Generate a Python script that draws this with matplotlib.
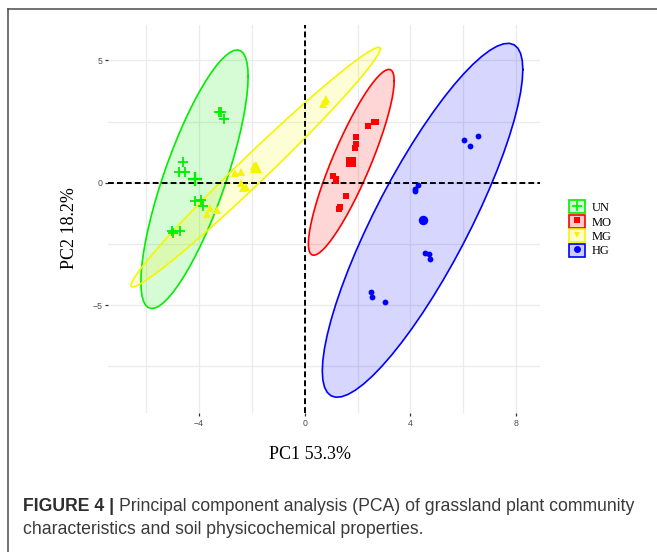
"""
PCA score plot of grassland plots (UN / MO / MG / HG) with 95% normal ellipses.
"""

import numpy as np
import matplotlib
matplotlib.use('Agg')
import matplotlib.pyplot as plt
from matplotlib.lines import Line2D
from matplotlib.patches import Patch
from matplotlib.legend_handler import HandlerTuple

# ---------------------------------------------------------------------------
# Data (PC1 / PC2 scores)
# ---------------------------------------------------------------------------
groups = ['UN', 'MO', 'MG', 'HG']
colors = ['#00EE00', '#FF0000', '#F5F500', '#0000FF']
markers = ['+', 's', '^', 'o']
legend_markers = ['+', 's', 'v', 'o']

un_pc1 = [-3.23, -3.16, -3.07, -4.61, -4.76, -4.55, -4.17, -3.93, -3.85, -5.03, -4.99, -4.74]
un_pc2 = [2.90, 2.90, 2.60, 0.86, 0.43, 0.45, -0.76, -0.70, -0.94, -1.99, -2.06, -1.97]

mo_pc1 = [2.70, 2.61, 2.38, 1.96, 1.95, 1.91, 1.08, 1.20, 1.18, 1.57, 1.34, 1.28]
mo_pc2 = [2.49, 2.49, 2.30, 1.87, 1.58, 1.41, 0.26, 0.16, 0.08, -0.56, -0.98, -1.09]

mg_pc1 = [0.70, 0.77, 0.82, -2.64, -2.41, -2.43, -2.35, -2.23, -3.60, -3.70, -3.32, -1.93]
mg_pc2 = [3.22, 3.33, 3.42, 0.40, 0.42, 0.01, -0.22, -0.19, -1.04, -1.27, -1.11, 0.67]

hg_pc1 = [6.02, 6.25, 6.55, 4.28, 4.18, 4.19, 4.56, 4.71, 4.74, 2.50, 2.54, 3.03]
hg_pc2 = [1.76, 1.48, 1.89, -0.10, -0.25, -0.34, -2.88, -2.90, -3.10, -4.44, -4.66, -4.85]

scores = [(un_pc1, un_pc2), (mo_pc1, mo_pc2), (mg_pc1, mg_pc2), (hg_pc1, hg_pc2)]

x_label = 'PC1 53.3%'
y_label = 'PC2 18.2%'
caption_bold = 'FIGURE 4 |'
caption_line1 = 'Principal component analysis (PCA) of grassland plant community'
caption_line2 = 'characteristics and soil physicochemical properties.'


def norm_ellipse(x, y, level=0.95, segments=61):
    """Same construction as ggplot2::stat_ellipse(type='norm')."""
    pts = np.column_stack([x, y])
    n = len(pts)
    center = pts.mean(axis=0)
    cov = np.cov(pts, rowvar=False)
    # F quantile with 2 numerator dof has a closed form
    dfd = n - 1
    fq = dfd / 2 * ((1 - level) ** (-2 / dfd) - 1)
    radius = np.sqrt(2 * fq)
    theta = np.linspace(0, 2 * np.pi, segments)
    circle = np.column_stack([np.cos(theta), np.sin(theta)])
    chol = np.linalg.cholesky(cov).T
    return center + radius * circle @ chol


W, H = 657, 552
fig = plt.figure(figsize=(W / 100, H / 100), dpi=100)
fig.patch.set_facecolor('white')

# panel in pixel coordinates
px_left, px_right, px_top, px_bottom = 108, 540, 25, 413
ax = fig.add_axes([px_left / W, 1 - px_bottom / H,
                   (px_right - px_left) / W, (px_bottom - px_top) / H])

# =========================================================================
# Ellipses, then points and centroids
# =========================================================================
for (x, y), c in zip(scores, colors):
    ell = norm_ellipse(x, y)
    ax.fill(ell[:, 0], ell[:, 1], facecolor=c, alpha=0.16, edgecolor='none', zorder=2)
    ax.plot(ell[:, 0], ell[:, 1], color=c, lw=1.2, zorder=3)

point_ms = [6.5, 4.5, 5.5, 4.2]
centroid_ms = [10, 7.0, 8.5, 6.8]
for (x, y), c, m, ms, cms in zip(scores, colors, markers, point_ms, centroid_ms):
    mew = 1.3 if m == '+' else 0
    ax.plot(x, y, linestyle='none', marker=m, ms=ms, color=c, mew=mew, zorder=4)
    ax.plot(np.mean(x), np.mean(y), linestyle='none', marker=m, ms=cms, color=c,
            mew=1.7 if m == '+' else 0, zorder=4)

ax.axhline(0, color='black', lw=1.4, dashes=(3.0, 1.6), zorder=3.5)
ax.axvline(0, color='black', lw=1.4, dashes=(3.0, 1.6), zorder=3.5)

# =========================================================================
# Axes styling (ggplot minimal-like)
# =========================================================================
ax.set_xlim(-7.45, 8.91)
ax.set_ylim(-9.40, 6.44)
ax.set_xticks([-4, 0, 4, 8])
ax.set_yticks([-5, 0, 5])
ax.set_xticks([-6, -2, 2, 6], minor=True)
ax.set_yticks([-7.5, -2.5, 2.5], minor=True)
ax.grid(True, which='both', color='#EBEBEB', lw=0.9, zorder=0)
ax.set_axisbelow(True)
for s in ax.spines.values():
    s.set_visible(False)
ax.tick_params(which='major', length=2.5, width=0.9, color='#333333',
               labelsize=6.3, labelcolor='#4D4D4D', pad=1.5)
ax.tick_params(which='minor', length=0)
ax.set_xticklabels(['\u22124', '0', '4', '8'])
ax.set_yticklabels(['\u22125', '0', '5'])
for lab in ax.get_xticklabels() + ax.get_yticklabels():
    lab.set_family('Liberation Sans')

fig.text(310 / W, 1 - 459 / H, x_label, ha='center', va='baseline',
         family='Liberation Serif', fontsize=13)
fig.text(78 / W, 1 - 228 / H, y_label, ha='right', va='center', rotation=90,
         family='Liberation Serif', fontsize=13)

# legend: coloured box + marker per group
handles = []
for c, m in zip(colors, legend_markers):
    box = Patch(facecolor=matplotlib.colors.to_rgba(c, 0.2), edgecolor=c, lw=1.2)
    mk = Line2D([], [], linestyle='none', marker=m, color=c, ms=7 if m == '+' else 5,
                mew=1.2 if m == '+' else 0)
    handles.append((box, mk))
fig.legend(handles, groups, loc='upper left',
           bbox_to_anchor=(563 / W, 1 - 194 / H), frameon=False, borderpad=0,
           handler_map={tuple: HandlerTuple(ndivide=1, pad=0)},
           handlelength=1.25, handleheight=1.25, handletextpad=0.55,
           labelspacing=0.05, prop={'family': 'Liberation Serif', 'size': 9})

# =========================================================================
# Frame and caption
# =========================================================================
fig.add_artist(Line2D([8 / W, 1.0], [1 - 9 / H, 1 - 9 / H], transform=fig.transFigure,
                      color='#4A4A4A', lw=1.1))
fig.add_artist(Line2D([8 / W, 8 / W], [0.0, 1 - 9 / H], transform=fig.transFigure,
                      color='#4A4A4A', lw=1.1))

cap_size = 12.7
t_bold = fig.text(23 / W, 1 - 511 / H, caption_bold + ' ', ha='left', va='baseline',
                  family='Liberation Sans', weight='bold', fontsize=cap_size, color='#2E2E2E')
fig.canvas.draw()
bb = t_bold.get_window_extent(renderer=fig.canvas.get_renderer())
fig.text(bb.x1 / W, 1 - 511 / H, caption_line1, ha='left', va='baseline',
         family='Liberation Sans', fontsize=cap_size, color='#3A3A3A')
fig.text(23 / W, 1 - 534 / H, caption_line2, ha='left', va='baseline',
         family='Liberation Sans', fontsize=cap_size, color='#3A3A3A')

fig.savefig('out.png', dpi=100, facecolor='white')
print('saved out.png')
